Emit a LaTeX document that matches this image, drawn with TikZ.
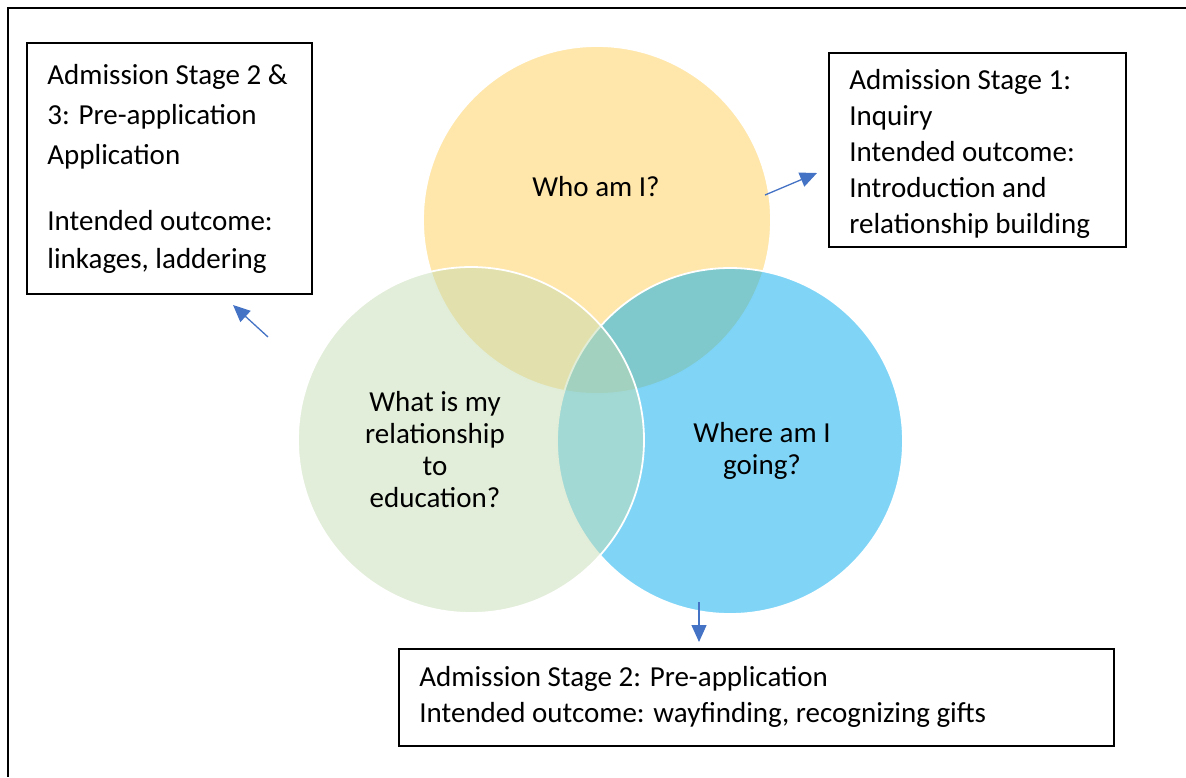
\documentclass[tikz,border=0pt]{standalone}
\usepackage{fontspec}
\setmainfont{Carlito}
\usepackage{tikz}
\usetikzlibrary{arrows.meta, positioning}
\definecolor{WhoYellow}{RGB}{255,205,85}
\definecolor{WhatGreen}{RGB}{197,221,179}
\definecolor{WhereBlue}{RGB}{1,171,239}
\definecolor{ArrowBlue}{RGB}{68,114,196}
\providecommand{\stagefont}{\fontsize{14.5}{18}\selectfont}
\tikzset{
  >={Triangle[length=8.5pt,width=7.5pt]},  % frecce piene
  % Cerchi del diagramma
  ring/.style={circle,draw=white,line width=0.9pt,fill opacity=0.5,inner sep=0},
  ring who/.style={ring,fill=WhoYellow,minimum size=174pt},
  ring what/.style={ring,fill=WhatGreen,minimum size=173pt},
  ring where/.style={ring,fill=WhereBlue,minimum size=173pt},
  question/.style={anchor=base,align=center,font=\fontsize{14.5}{16}\selectfont,inner sep=0},
  % Riquadri delle fasi
  stage box/.style={draw=black,line width=0.8pt,inner sep=0,anchor=north west},
  stage text/.style={anchor=base west,align=left,font=\stagefont,inner sep=0},
  % Connessioni
  connect arrow/.style={->,ArrowBlue,line width=0.65pt}
}

\begin{document}
\begin{tikzpicture}[x=0.5pt,y=-0.5pt]
  \useasboundingbox (0,0) rectangle (1186,777);
  \draw[line width=0.9pt] (1186,8) -- (8,8) -- (8,777);

  \node[ring who] (who) at (597,220) {};
  \node[ring where] (where) at (730,441) {};
  \node[ring what] (what) at (471,440) {};

  % ancora base = ultima riga
  \node[question] (whoq) at (596,196) {Who am I?};
  \node[question] (whatq) at (435,507) {What is my\\relationship\\to\\education?};
  \node[question] (whereq) at (762,474) {Where am I\\going?};

  \node[stage box,minimum width=142.5pt,minimum height=125.5pt] (stagetwothree) at (26,42) {};
  \node[stage text] (stagetwothreetext) at (47,268)
    {Admission Stage 2 \&\\[2pt]3: Pre-application\\[2pt]Application\\[15pt]Intended outcome:\\[1pt]linkages, laddering};

  \node[stage box,minimum width=148.5pt,minimum height=97pt] (stageone) at (828,52) {};
  \begin{scope}
    \clip (828,52) rectangle (1125,237);
    \node[stage text] (stageonetext) at (849,233)
      {Admission Stage 1:\\Inquiry\\Intended outcome:\\Introduction and\\relationship building};
  \end{scope}

  \node[stage box,minimum width=357.5pt,minimum height=48.5pt] (stagetwo) at (398,648) {};
  \node[stage text] (stagetwotext) at (419,722)
    {Admission Stage 2: Pre-application\\Intended outcome: wayfinding, recognizing gifts};

  \coordinate (whattail) at (268,337);
  \coordinate (whattip) at (233,305);
  \coordinate (whotail) at (765,195);
  \coordinate (whotip) at (817,173);
  \coordinate (wheretail) at (699,602);
  \coordinate (wheretip) at (699,642);
  \draw[connect arrow] (whattail) -- (whattip);
  \draw[connect arrow] (whotail) -- (whotip);
  \draw[connect arrow] (wheretail) -- (wheretip);
\end{tikzpicture}
\end{document}
